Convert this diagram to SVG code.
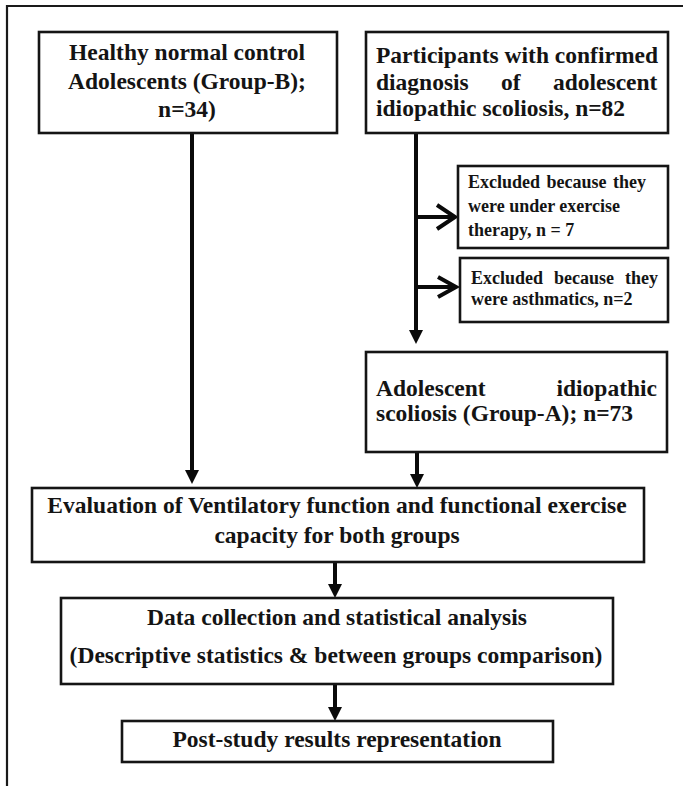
<svg xmlns="http://www.w3.org/2000/svg" width="683" height="786" viewBox="0 0 683 786">
<style>
.box{fill:#fff;stroke:#151515;stroke-width:2.6}
.t{font-family:"Liberation Serif","Times New Roman",serif;font-weight:bold;font-size:23.5px;fill:#141414}
.s{font-family:"Liberation Serif","Times New Roman",serif;font-weight:bold;font-size:18px;fill:#141414}
.c{text-anchor:middle}
.ln{stroke:#0a0a0a;stroke-width:4;fill:none}
.chev{stroke:#0a0a0a;stroke-width:4;fill:none;stroke-linejoin:miter}
.frame{stroke:#1a1a1a;stroke-width:2.2;fill:none}
</style>
<defs>
<marker id="tri" viewBox="0 0 14 14" refX="3" refY="7" markerWidth="14" markerHeight="14" markerUnits="userSpaceOnUse" orient="auto">
<path d="M0,0 L14,7 L0,14 z" fill="#0a0a0a"/>
</marker>
</defs>
<rect width="683" height="786" fill="#fff"/>
<path class="frame" d="M7,786 L7,6 L683,6"/>

<g id="connectors">
<line class="ln" x1="192" y1="133" x2="192" y2="473" marker-end="url(#tri)"/>
<line class="ln" x1="416" y1="133" x2="416" y2="333" marker-end="url(#tri)"/>
<line class="ln" x1="416" y1="217" x2="454" y2="217"/>
<path class="chev" d="M437,205 L455,217 L437,229"/>
<line class="ln" x1="416" y1="287" x2="455" y2="287"/>
<path class="chev" d="M438,277 L456,287 L438,297"/>
<line class="ln" x1="417" y1="452" x2="417" y2="477" marker-end="url(#tri)"/>
<line class="ln" x1="335" y1="562" x2="335" y2="587" marker-end="url(#tri)"/>
<line class="ln" x1="335" y1="684" x2="335" y2="710" marker-end="url(#tri)"/>
</g>

<g id="node-healthy">
<rect class="box" x="39" y="32" width="298" height="101"/>
<text class="t c" x="187" y="60">Healthy normal control</text>
<text class="t c" x="187" y="89">Adolescents (Group-B);</text>
<text class="t c" x="187" y="117">n=34)</text>
</g>

<g id="node-participants">
<rect class="box" x="366" y="32" width="302" height="101"/>
<text class="t" x="376" y="63">Participants with confirmed</text>
<text class="t" y="90"><tspan x="376">diagnosis</tspan><tspan x="501">of</tspan><tspan x="553">adolescent</tspan></text>
<text class="t" x="376" y="116">idiopathic scoliosis, n=82</text>
</g>

<g id="node-excluded-exercise">
<rect class="box" x="458" y="166" width="210" height="82"/>
<text class="s" x="468" y="188" word-spacing="2">Excluded because they</text>
<text class="s" x="468" y="212">were under exercise</text>
<text class="s" x="468" y="236">therapy, n = 7</text>
</g>

<g id="node-excluded-asthma">
<rect class="box" x="460" y="258" width="208" height="64"/>
<text class="s" y="284"><tspan x="471">Excluded</tspan><tspan x="554">because</tspan><tspan x="625">they</tspan></text>
<text class="s" x="471" y="305">were asthmatics, n=2</text>
</g>

<g id="node-group-a">
<rect class="box" x="366" y="352" width="301" height="100"/>
<text class="t" y="396"><tspan x="376">Adolescent</tspan><tspan x="657" text-anchor="end">idiopathic</tspan></text>
<text class="t" x="376" y="421">scoliosis (Group-A); n=73</text>
</g>

<g id="node-evaluation">
<rect class="box" x="32" y="488" width="612" height="74"/>
<text class="t c" x="337" y="513">Evaluation of Ventilatory function and functional exercise</text>
<text class="t c" x="337" y="543">capacity for both groups</text>
</g>

<g id="node-data">
<rect class="box" x="61" y="598" width="552" height="86"/>
<text class="t c" x="337" y="625">Data collection and statistical analysis</text>
<text class="t c" x="336" y="663">(Descriptive statistics &amp; between groups comparison)</text>
</g>

<g id="node-post">
<rect class="box" x="122" y="721" width="431" height="41"/>
<text class="t c" x="337" y="747">Post-study results representation</text>
</g>
</svg>
